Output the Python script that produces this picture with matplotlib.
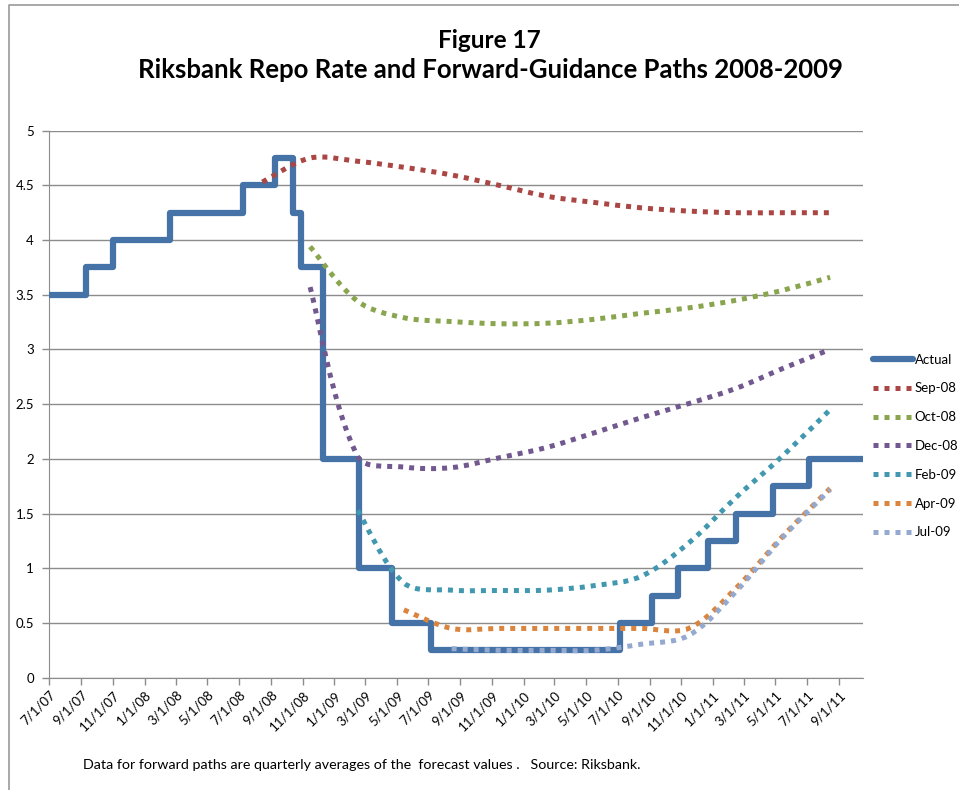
import matplotlib
matplotlib.use("Agg")
import matplotlib.pyplot as plt
import matplotlib.dates as mdates
from matplotlib.lines import Line2D
from matplotlib.path import Path
from matplotlib.patches import PathPatch
import numpy as np
import pandas as pd

plt.rcParams["font.family"] = ["Lato", "DejaVu Sans"]

# repo rate (date of each change, new level)
actual_dates = ["2007-07-01", "2007-09-10", "2007-10-31", "2008-02-19", "2008-07-08",
                "2008-09-09", "2008-10-14", "2008-10-28", "2008-12-10", "2009-02-18",
                "2009-04-22", "2009-07-07", "2010-07-05", "2010-09-06", "2010-10-26",
                "2010-12-22", "2011-02-15", "2011-04-27", "2011-07-05", "2011-10-18"]
actual_rate = [3.5, 3.75, 4.0, 4.25, 4.5, 4.75, 4.25, 3.75, 2.0, 1.0,
               0.5, 0.25, 0.5, 0.75, 1.0, 1.25, 1.5, 1.75, 2.0, 2.0]

# forward paths, quarterly averages plotted mid-quarter
quarters = ["2008-08-15", "2008-11-15", "2009-02-15", "2009-05-15", "2009-08-15",
            "2009-11-15", "2010-02-15", "2010-05-15", "2010-08-15", "2010-11-15",
            "2011-02-15", "2011-05-15", "2011-08-15"]
sep08 = [4.53, 4.75, 4.72, 4.665, 4.595, 4.50, 4.40, 4.345, 4.295, 4.265, 4.25, 4.25, 4.25]
oct08 = [3.94, 3.44, 3.29, 3.255, 3.235, 3.24, 3.275, 3.33, 3.38, 3.45, 3.54, 3.66]
dec08 = [3.57, 2.02, 1.925, 1.92, 2.01, 2.105, 2.235, 2.375, 2.505, 2.645, 2.825, 3.0]
feb09 = [1.53, 0.865, 0.80, 0.797, 0.80, 0.84, 0.925, 1.23, 1.65, 2.025, 2.45]
apr09 = [0.62, 0.45, 0.45, 0.45, 0.45, 0.45, 0.45, 0.82, 1.29, 1.73]
jul09 = [0.265, 0.25, 0.25, 0.25, 0.305, 0.385, 0.79, 1.28, 1.72]

paths = [("Sep-08", sep08, "#AA4643"), ("Oct-08", oct08, "#89A54E"),
         ("Dec-08", dec08, "#71588F"), ("Feb-09", feb09, "#4198AF"),
         ("Apr-09", apr09, "#DB843D"), ("Jul-09", jul09, "#93A9CF")]
ACTUAL = "#4572A7"
GRID = "#8c8c8c"
DOTS = (0, (1, 1.2))


def smooth(ax, x, y):
    # excel-ish smoothed line: bezier through every point, tangents weighted by
    # chord length measured on screen
    pts = np.column_stack([x, y])
    pix = ax.transData.transform(pts)
    n = len(pts)
    seg = np.linalg.norm(np.diff(pix, axis=0), axis=1)
    verts, codes = [pts[0]], [Path.MOVETO]
    for i in range(n - 1):
        a = i - 1 if i > 0 else i
        b = i + 2 if i + 2 < n else i + 1
        d_prev = seg[i - 1] if i > 0 else seg[i]
        d_next = seg[i + 1] if i + 2 < n else seg[i]
        f1 = seg[i] / (d_prev + seg[i]) / 3
        f2 = seg[i] / (seg[i] + d_next) / 3
        verts += [pts[i] + (pts[i + 1] - pts[a]) * f1,
                  pts[i + 1] - (pts[b] - pts[i]) * f2, pts[i + 1]]
        codes += [Path.CURVE4] * 3
    return Path(verts, codes)


fig = plt.figure(figsize=(9.59, 7.90), dpi=100)
ax = fig.add_axes([0.0514, 0.1422, 0.8488, 0.6924])
ax.set_xlim(mdates.date2num(pd.Timestamp("2007-07-01")), mdates.date2num(pd.Timestamp("2011-10-18")))
ax.set_ylim(0, 5)

ax.plot(mdates.date2num(pd.to_datetime(actual_dates)), actual_rate, drawstyle="steps-post",
        color=ACTUAL, lw=4.5, solid_joinstyle="round", solid_capstyle="butt", zorder=3)

qx = mdates.date2num(pd.to_datetime(quarters))
handles = [Line2D([], [], color=ACTUAL, lw=4.5, solid_capstyle="round")]
for name, vals, col in paths:
    xs = qx[len(qx) - len(vals):]
    ax.add_patch(PathPatch(smooth(ax, xs, vals), fill=False, edgecolor=col, lw=3.6,
                           linestyle=DOTS, capstyle="butt", zorder=4))
    handles.append(Line2D([], [], color=col, lw=3.6, linestyle=DOTS, dash_capstyle="butt"))

yt = np.arange(0, 5.01, 0.5)
ax.set_yticks(yt)
ax.set_yticklabels([f"{v:g}" for v in yt])
ticks = pd.date_range("2007-07-01", "2011-09-01", freq="2MS")
ax.set_xticks(mdates.date2num(ticks))
ax.set_xticklabels([f"{d.month}/{d.day}/{d.year % 100:02d}" for d in ticks],
                   rotation=45, ha="right", rotation_mode="anchor")
ax.tick_params(axis="both", colors=GRID, labelcolor="black", labelsize=9.5, length=5, width=1)
ax.tick_params(axis="y", pad=6)
ax.tick_params(axis="x", pad=3)
ax.grid(axis="y", color=GRID, lw=1)
ax.set_axisbelow(True)
for s in ["top", "right"]:
    ax.spines[s].set_visible(False)
for s in ["left", "bottom"]:
    ax.spines[s].set_color(GRID)

fig.legend(handles, ["Actual"] + [p[0] for p in paths], loc="center left",
           bbox_to_anchor=(873 / 959, 1 - 446 / 790), frameon=False, fontsize=9.5,
           borderpad=0, borderaxespad=0, handlelength=3.0, handletextpad=0.15, labelspacing=1.27)

fig.text(0.51, 1 - 47.5 / 790, "Figure 17", ha="center", va="baseline", fontsize=17.5, fontweight="bold")
fig.text(0.511, 1 - 78 / 790, "Riksbank Repo Rate and Forward-Guidance Paths 2008-2009",
         ha="center", va="baseline", fontsize=18.5, fontweight="bold")
fig.text(83 / 959, 1 - 769 / 790,
         "Data for forward paths are quarterly averages of the  forecast values .   Source: Riksbank.",
         ha="left", va="baseline", fontsize=10.3)

# chart frame (left and top edges)
fig.add_artist(Line2D([9 / 959, 9 / 959, 1], [0, 1 - 5.3 / 790, 1 - 5.3 / 790],
                      transform=fig.transFigure, color="#999999", lw=1.2))

fig.savefig("out.png", dpi=100)
